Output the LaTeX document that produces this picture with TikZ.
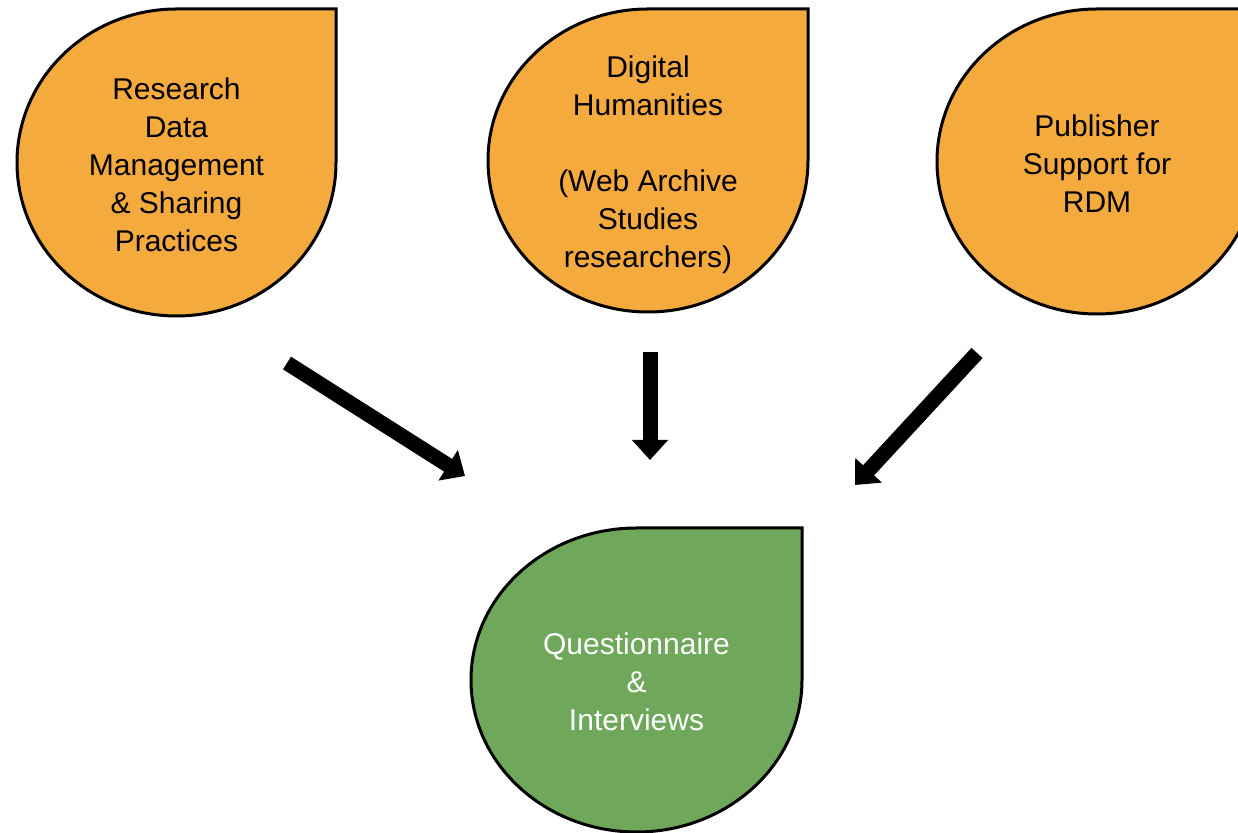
\documentclass[tikz,border=0pt]{standalone}
\usepackage{fontspec}
\setmainfont{Liberation Sans}
\usetikzlibrary{arrows.meta}
\definecolor{dropOrange}{RGB}{245,170,61}
\definecolor{dropGreen}{RGB}{112,168,91}
\tikzset{
  droptext/.style={align=center, inner sep=0pt,
    font=\fontsize{30}{38}\selectfont},
  fatarrow/.style={line width=15pt,
    -{Triangle[width=35pt,length=20pt]}},
}
\tikzset{
  drop/.pic={
   \path[draw=black, line width=3pt, pic actions]
    (0,\dropy) arc[start angle=90, end angle=360,
      x radius=\dropx, y radius=\dropy]
    -- (\dropx,\dropy) -- cycle;
   \node[droptext] (-txt) at (0,\droptxt) {#1};
 },
  /drop/.search also={/tikz},
  /drop/.cd,
  rx/.store in=\dropx,
  ry/.store in=\dropy,
  txt/.store in=\droptxt,
  rx=160,
  ry=152,
  txt=-2,
}

\begin{document}
\begin{tikzpicture}[x=1pt,y=1pt]
  \clip (0,0) rectangle (1238,832);
  \useasboundingbox (0,0) rectangle (1238,832);

  \path (176.5,669.5) pic[fill=dropOrange,/drop/rx=159.5,/drop/ry=153.5] (rdm)
    {drop={Research\\Data\\Management\\\& Sharing\\Practices}};
  \path (648,671.5) pic[fill=dropOrange,/drop/rx=160,/drop/ry=151.5,/drop/txt=-4] (dh)
    {drop={Digital\\Humanities\\[38pt](Web Archive\\Studies\\researchers)}};
  \path (1097,670.5) pic[fill=dropOrange,/drop/rx=160,/drop/ry=152.5] (pub)
    {drop={Publisher\\Support for\\RDM}};
  \path (636.5,152) pic[fill=dropGreen,text=white,/drop/rx=165.5,/drop/ry=152] (qi)
    {drop={Questionnaire\\\&\\Interviews}};

  % arrow ends
  \coordinate (rdm-from) at (287,469);
  \coordinate (rdm-to)   at (465,356);
  \coordinate (dh-from)  at (650,480);
  \coordinate (dh-to)    at (650,372);
  \coordinate (pub-from) at (977,479);
  \coordinate (pub-to)   at (855,347);

  \draw[fatarrow] (rdm-from) -- (rdm-to);
  \draw[fatarrow] (dh-from) -- (dh-to);
  \draw[fatarrow] (pub-from) -- (pub-to);
\end{tikzpicture}
\end{document}
